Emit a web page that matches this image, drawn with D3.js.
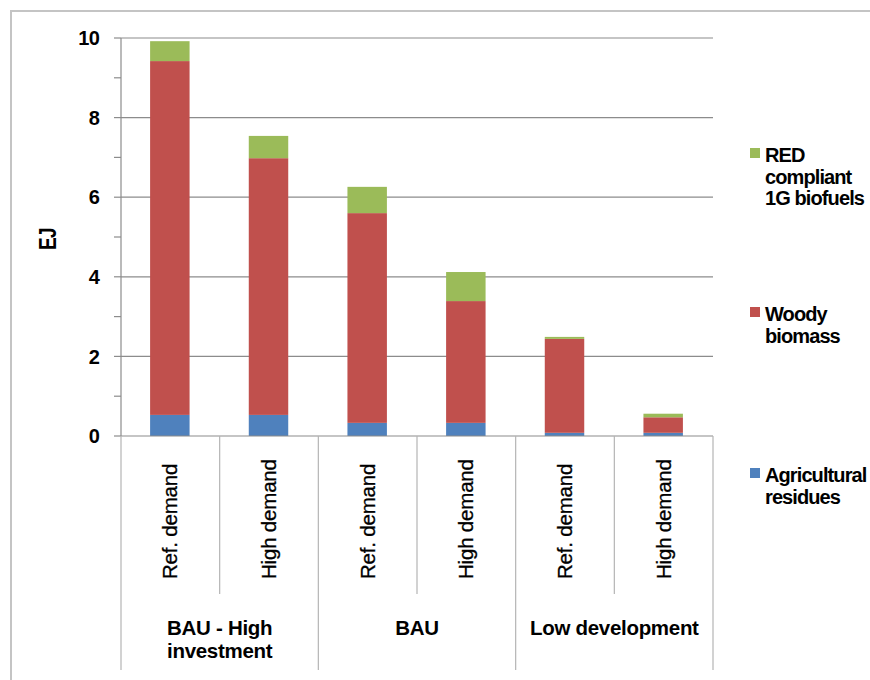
<!DOCTYPE html>
<html><head><meta charset="utf-8">
<script src="https://cdn.jsdelivr.net/npm/d3@7"></script>
<style>
html,body{margin:0;padding:0;background:#fff;}
svg{display:block;font-family:"Liberation Sans",Arial,sans-serif;}
</style></head>
<body><svg id="c" width="870" height="680"></svg>
<script>
const categories = ["Ref. demand","High demand","Ref. demand","High demand","Ref. demand","High demand"];
const groups = [["BAU - High","investment"],["BAU"],["Low development"]];
const agricultural = [0.53,0.53,0.33,0.33,0.08,0.08];
const woody = [8.89,6.45,5.27,3.06,2.36,0.39];
const redBio = [0.50,0.56,0.66,0.73,0.05,0.09];
const seriesNames = ["Agricultural residues","Woody biomass","RED compliant 1G biofuels"];
const legendLines = [["Agricultural","residues"],["Woody","biomass"],["RED","compliant","1G biofuels"]];
const colors = ["#4F81BD","#C0504D","#9BBB59"];
const yTicks = [0,2,4,6,8,10];

const svg = d3.select("#c");
// outer frame
svg.append("path").attr("d","M11,680 V11 H870").attr("fill","none").attr("stroke","#c4c4c4").attr("stroke-width",2);

const x = d3.scaleBand().domain(d3.range(categories.length)).range([121,713]).padding(0);
const y = d3.scaleLinear().domain([0,10]).range([436,38]);
const bw = x.bandwidth();

// gridlines
svg.append("g").selectAll("line").data(yTicks.filter(d=>d>0)).join("line")
  .attr("x1",121).attr("x2",713).attr("y1",d=>y(d)).attr("y2",d=>y(d))
  .attr("stroke","#8c8c8c").attr("stroke-width",1.2);

// stacked data
const table = categories.map((c,i)=>({i, agri:agricultural[i], woody:woody[i], red:redBio[i]}));
const stack = d3.stack().keys(["agri","woody","red"])(table);
svg.append("g").selectAll("g").data(stack).join("g").attr("fill",(d,k)=>colors[k])
  .selectAll("rect").data(d=>d).join("rect")
  .attr("x",d=>x(d.data.i)+bw*0.295).attr("width",bw*0.4)
  .attr("y",d=>y(d[1])).attr("height",d=>y(d[0])-y(d[1]));

// y axis
const axG = svg.append("g");
axG.append("line").attr("x1",121).attr("x2",121).attr("y1",38).attr("y2",436).attr("stroke","#8c8c8c").attr("stroke-width",1.2);
axG.selectAll("line.t").data(d3.range(0,11)).join("line").attr("class","t")
  .attr("x1",114).attr("x2",121).attr("y1",d=>y(d)).attr("y2",d=>y(d)).attr("stroke","#8c8c8c").attr("stroke-width",1.2);
axG.selectAll("text").data(yTicks).join("text")
  .attr("x",99).attr("y",d=>y(d)).attr("dy","0.36em").attr("text-anchor","end")
  .attr("font-size",20).attr("font-weight","bold").attr("letter-spacing",-0.8).text(d=>d);
svg.append("text").attr("transform","translate(56,239) rotate(-90) scale(1,1.3)").attr("text-anchor","middle")
  .attr("font-size",19).attr("font-weight","bold").attr("letter-spacing",-0.5).text("EJ");

// category axis
svg.append("line").attr("x1",121).attr("x2",713).attr("y1",436).attr("y2",436).attr("stroke","#8c8c8c").attr("stroke-width",1.2);
const bounds = d3.range(categories.length+1).map(i=> i<categories.length ? x(i) : x(i-1)+bw);
svg.append("g").selectAll("line").data(bounds).join("line")
  .attr("x1",d=>d).attr("x2",d=>d).attr("y1",436)
  .attr("y2",(d,i)=> i%2===0 ? 670 : 594)
  .attr("stroke","#b4b4b4").attr("stroke-width",1.2);
svg.append("g").selectAll("text").data(categories).join("text")
  .attr("transform",(d,i)=>`translate(${x(i)+bw/2+7},579) rotate(-90)`)
  .attr("text-anchor","start").attr("font-size",20.5).attr("letter-spacing",-0.2)
  .attr("stroke","#000").attr("stroke-width",0.3).text(d=>d);
const gG = svg.append("g");
groups.forEach((g,k)=>{
  const cx = (bounds[2*k]+bounds[2*k+2])/2;
  const t = gG.append("text").attr("x",cx).attr("y",635).attr("text-anchor","middle")
    .attr("font-size",20.5).attr("font-weight","bold").attr("letter-spacing",-0.3);
  g.forEach((ln,j)=> t.append("tspan").attr("x",cx).attr("dy",j===0?0:23).text(ln));
});

// legend
const legY = [473,312,153];
const lg = svg.append("g");
legendLines.forEach((lines,k)=>{
  lg.append("rect").attr("x",750).attr("y",legY[k]-5).attr("width",10).attr("height",10).attr("fill",colors[k]);
  const t = lg.append("text").attr("x",765).attr("y",legY[k]+9).attr("font-size",20)
    .attr("font-weight","bold").attr("letter-spacing",-0.9);
  lines.forEach((ln,j)=> t.append("tspan").attr("x",765).attr("dy",j===0?0:21.5).text(ln));
});
</script></body></html>
